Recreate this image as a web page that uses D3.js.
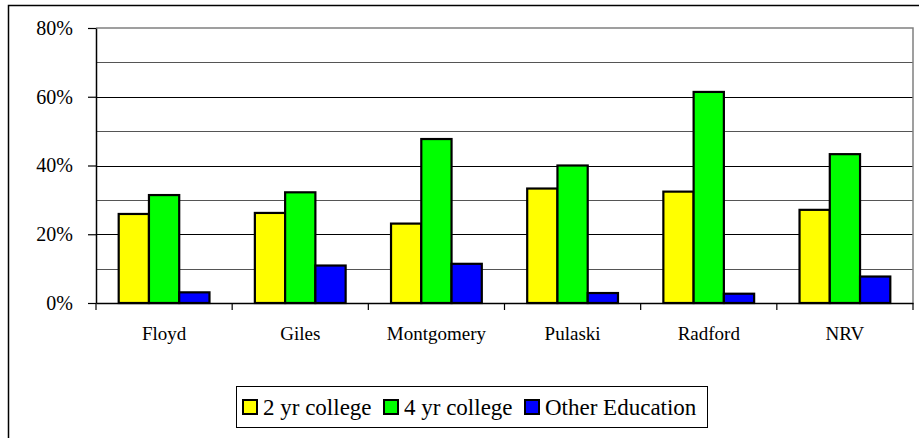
<!DOCTYPE html>
<html>
<head>
<meta charset="utf-8">
<script src="https://cdn.jsdelivr.net/npm/d3@7"></script>
<style>
  body { margin: 0; background: #fff; }
</style>
</head>
<body>
<div id="chart"></div>
<script>
const counties = ["Floyd", "Giles", "Montgomery", "Pulaski", "Radford", "NRV"];
const seriesNames = ["2 yr college", "4 yr college", "Other Education"];
const twoYear = [25.9, 26.2, 23.1, 33.3, 32.4, 27.1];
const fourYear = [31.4, 32.2, 47.7, 40.0, 61.4, 43.3];
const otherEd = [3.1, 10.9, 11.4, 2.9, 2.7, 7.7];
const seriesColors = ["#ffff00", "#00ff00", "#0000ff"];
const majorTicks = [0, 20, 40, 60, 80];
const minorTicks = [10, 30, 50, 70];

const WIDTH = 919;
const HEIGHT = 438;
const plot = { left: 96, top: 28, right: 913, bottom: 303 };
const SERIF = "'Times New Roman', 'Liberation Serif', 'DejaVu Serif', Tinos, serif";

const svg = d3.select("#chart")
  .append("svg")
  .attr("width", WIDTH)
  .attr("height", HEIGHT)
  .style("display", "block");

// outer chart frame (runs off the right and bottom edges)
svg.append("rect")
  .attr("x", 8.5).attr("y", 5.5)
  .attr("width", WIDTH + 20).attr("height", HEIGHT + 20)
  .attr("fill", "#fff").attr("stroke", "#000").attr("stroke-width", 1.5);

const x = d3.scaleBand()
  .domain(counties)
  .range([plot.left, plot.right])
  .paddingInner(0)
  .paddingOuter(0);

const seriesData = [twoYear, fourYear, otherEd];
const barGroupPad = x.bandwidth() / 4.5 * 0.75;
const xInner = d3.scaleBand()
  .domain(d3.range(seriesNames.length))
  .range([barGroupPad, x.bandwidth() - barGroupPad]);

const y = d3.scaleLinear().domain([0, 80]).range([plot.bottom, plot.top]);

// gridlines
svg.append("g").selectAll("line")
  .data(minorTicks)
  .join("line")
  .attr("x1", plot.left).attr("x2", plot.right)
  .attr("y1", (d) => Math.round(y(d)) + 0.5).attr("y2", (d) => Math.round(y(d)) + 0.5)
  .attr("stroke", "#555").attr("stroke-width", 1);

svg.append("g").selectAll("line")
  .data(majorTicks.filter((d) => d > 0 && d < 80))
  .join("line")
  .attr("x1", plot.left).attr("x2", plot.right)
  .attr("y1", (d) => Math.round(y(d)) + 0.5).attr("y2", (d) => Math.round(y(d)) + 0.5)
  .attr("stroke", "#000").attr("stroke-width", 1.2);

// plot area top and right border
svg.append("path")
  .attr("d", `M${plot.left},${y(80)}H${plot.right}V${plot.bottom}`)
  .attr("fill", "none").attr("stroke", "#808080").attr("stroke-width", 1.5);

// bars
const groups = svg.append("g").selectAll("g")
  .data(counties)
  .join("g")
  .attr("transform", (d) => `translate(${x(d)},0)`);

groups.selectAll("rect")
  .data((d, i) => seriesData.map((values, s) => ({ s, v: values[i] })))
  .join("rect")
  .attr("x", (d) => xInner(d.s))
  .attr("y", (d) => y(d.v))
  .attr("width", xInner.bandwidth())
  .attr("height", (d) => plot.bottom - y(d.v))
  .attr("fill", (d) => seriesColors[d.s])
  .attr("stroke", "#000")
  .attr("stroke-width", 2.2);

// y axis
const yAxis = svg.append("g")
  .attr("transform", `translate(${plot.left},0)`)
  .call(d3.axisLeft(y).tickValues(majorTicks).tickFormat((d) => d + "%").tickSize(8).tickSizeOuter(0));
yAxis.select(".domain").attr("stroke", "#000").attr("stroke-width", 1.5);
yAxis.selectAll(".tick line").attr("stroke", "#000").attr("stroke-width", 1.2);
yAxis.selectAll(".tick text")
  .attr("x", -23)
  .style("font-family", SERIF)
  .style("font-size", "20px")
  .attr("fill", "#000");

// x axis
const xAxis = svg.append("g")
  .attr("transform", `translate(0,${plot.bottom})`)
  .call(d3.axisBottom(x).tickSize(0).tickSizeOuter(0));
xAxis.select(".domain").attr("stroke", "#000").attr("stroke-width", 1.5);
xAxis.selectAll(".tick text")
  .attr("y", 24)
  .style("font-family", SERIF)
  .style("font-size", "19px")
  .attr("fill", "#000");

// category boundary ticks
svg.append("g").selectAll("line")
  .data(counties.map((c) => x(c)).concat([plot.right]))
  .join("line")
  .attr("x1", (d) => d).attr("x2", (d) => d)
  .attr("y1", plot.bottom).attr("y2", plot.bottom + 7)
  .attr("stroke", "#000").attr("stroke-width", 1.2);

// legend
const legend = svg.append("g");
legend.append("rect")
  .attr("x", 236.5).attr("y", 386.5)
  .attr("width", 471).attr("height", 41)
  .attr("fill", "#fff").attr("stroke", "#000").attr("stroke-width", 1);

const legendX = [243, 384, 525];
seriesNames.forEach((name, i) => {
  legend.append("rect")
    .attr("x", legendX[i]).attr("y", 400)
    .attr("width", 14).attr("height", 14)
    .attr("fill", seriesColors[i])
    .attr("stroke", "#000").attr("stroke-width", 2);
  legend.append("text")
    .attr("x", legendX[i] + 20).attr("y", 414.5)
    .style("font-family", SERIF)
    .style("font-size", "23px")
    .attr("fill", "#000")
    .text(name);
});
</script>
</body>
</html>
